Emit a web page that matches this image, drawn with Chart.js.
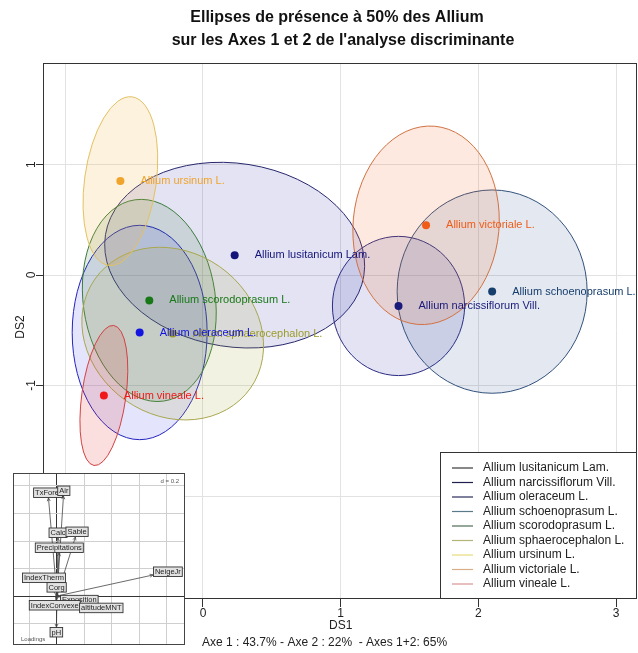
<!DOCTYPE html>
<html>
<head>
<meta charset="utf-8">
<script src="https://cdn.jsdelivr.net/npm/chart.js@4"></script>
<style>
  html, body { margin: 0; padding: 0; background: #fff; }
  #wrap { position: relative; width: 638px; height: 653px; overflow: hidden; }
  #main { position: absolute; left: 0; top: 0; width: 638px; height: 653px; }
  #inset { position: absolute; left: 13px; top: 473px; width: 172px; height: 172px; }
</style>
</head>
<body>
<div id="wrap">
  <canvas id="main" width="638" height="653"></canvas>
  <canvas id="inset" width="172" height="172"></canvas>
</div>
<script>
// ---- Discriminant analysis: class centroids on DS1 / DS2 ----
const species = [
  "Allium lusitanicum Lam.",
  "Allium narcissiflorum Vill.",
  "Allium oleraceum L.",
  "Allium schoenoprasum L.",
  "Allium scorodoprasum L.",
  "Allium sphaerocephalon L.",
  "Allium ursinum L.",
  "Allium victoriale L.",
  "Allium vineale L."
];
const ds1 = [0.23, 1.42, -0.46, 2.10, -0.39, -0.22, -0.60, 1.62, -0.72];
const ds2 = [0.18, -0.28, -0.52, -0.15, -0.23, -0.53, 0.85, 0.45, -1.09];

// 50% presence ellipses: semi-axes (in axis units) and tilt (degrees)
const ellipseDS1 = [0.95, 0.48, 0.49, 0.69, 0.48, 0.69, 0.26, 0.53, 0.16];
const ellipseDS2 = [0.83, 0.63, 0.97, 0.92, 0.92, 0.74, 0.77, 0.90, 0.64];
const ellipseTilt = [9, 0, 0, 0, -8, 35, 8, 5, 8];

const ticksDS1 = [-1, 0, 1, 2, 3];
const ticksDS2 = [-2, -1, 0, 1];

const titleLines = ["Ellipses de présence à 50% des Allium", "sur les Axes 1 et 2 de l'analyse discriminante"];
const inertiaText = "Axe 1 : 43.7% - Axe 2 : 22%  - Axes 1+2: 65%";

// ---- Loadings of the environmental variables (inset) ----
const loadingNames = ["TxForet", "Air", "Calc", "Sable", "Precipitations", "IndexTherm",
                      "Corg", "Exposition", "IndexConvexe", "altitudeMNT", "pH", "NeigeJr"];
const loadingX = [-0.062, 0.047, 0.007, 0.134, 0.015, -0.068, -0.001, 0.022, -0.007, 0.19, -0.004, 0.698];
const loadingY = [0.713, 0.727, 0.422, 0.429, 0.313, 0.095, 0.025, -0.004, -0.029, -0.051, -0.225, 0.153];
const loadingGrid = [-0.2, 0, 0.2, 0.4, 0.6, 0.8];

// ---- Colours ----
const dotColours = ['#14147a', '#1a1a7a', '#1414e0', '#163e6c', '#187818', '#9c9c2c', '#f0a42c', '#f05c18', '#f01818'];
const strokeColours = ['#28286e', '#2c2c84', '#2424c0', '#33527c', '#3c7c3c', '#a8a850', '#e2c262', '#d27242', '#d24242'];
const fillColours = [
  'rgba(40,40,170,0.13)', 'rgba(40,40,160,0.13)', 'rgba(30,30,230,0.12)',
  'rgba(40,80,150,0.13)', 'rgba(30,110,30,0.13)', 'rgba(170,170,60,0.15)',
  'rgba(245,180,60,0.17)', 'rgba(240,110,40,0.15)', 'rgba(230,40,40,0.15)'
];
const legendColours = ['#3a3a3a', '#20204e', '#2a2a5e', '#5a7a8a', '#4c6c52', '#b4b478', '#e8dc78', '#d8ae88', '#d89494'];

const FONT = "'Liberation Sans', Arial, sans-serif";

const pageBackground = {
  id: 'pageBackground',
  beforeDraw(chart) {
    const ctx = chart.ctx;
    ctx.save();
    ctx.fillStyle = '#fff';
    ctx.fillRect(0, 0, chart.width, chart.height);
    ctx.restore();
  }
};

const ellipses = {
  id: 'ellipses',
  beforeDatasetsDraw(chart) {
    const { ctx, chartArea: a, scales: { x, y } } = chart;
    ctx.save();
    ctx.beginPath();
    ctx.rect(a.left, a.top, a.right - a.left, a.bottom - a.top);
    ctx.clip();
    species.forEach((name, i) => {
      const cx = x.getPixelForValue(ds1[i]);
      const cy = y.getPixelForValue(ds2[i]);
      const rx = Math.abs(x.getPixelForValue(ds1[i] + ellipseDS1[i]) - cx);
      const ry = Math.abs(y.getPixelForValue(ds2[i] + ellipseDS2[i]) - cy);
      ctx.beginPath();
      ctx.ellipse(cx, cy, rx, ry, ellipseTilt[i] * Math.PI / 180, 0, Math.PI * 2);
      ctx.fillStyle = fillColours[i];
      ctx.fill();
      ctx.strokeStyle = strokeColours[i];
      ctx.lineWidth = 1;
      ctx.stroke();
    });
    ctx.restore();
  }
};

const decorations = {
  id: 'decorations',
  afterDatasetsDraw(chart) {
    const { ctx, chartArea: a } = chart;
    const meta = chart.getDatasetMeta(0);
    ctx.save();
    // class labels beside each centroid
    ctx.font = `11px ${FONT}`;
    ctx.textAlign = 'left';
    ctx.textBaseline = 'middle';
    for (let i = species.length - 1; i >= 0; i--) {
      const p = meta.data[i];
      ctx.fillStyle = dotColours[i];
      ctx.fillText(species[i], p.x + 20, p.y);
    }
    // plot frame
    ctx.strokeStyle = '#333';
    ctx.lineWidth = 1;
    ctx.strokeRect(a.left + 0.5, a.top + 0.5, a.right - a.left - 1, a.bottom - a.top);
    ctx.restore();
  },
  afterDraw(chart) {
    const { ctx, chartArea: a, scales: { x, y } } = chart;
    ctx.save();
    // title
    ctx.fillStyle = '#111';
    ctx.font = `bold 16px ${FONT}`;
    ctx.textAlign = 'center';
    ctx.textBaseline = 'middle';
    ctx.fillText(titleLines[0], 337, 18);
    ctx.fillText(titleLines[1], 343, 41);

    ctx.font = `12px ${FONT}`;
    ctx.fillStyle = '#222';
    // x tick labels
    ticksDS1.forEach(v => {
      ctx.fillText(String(v), x.getPixelForValue(v), 614);
    });
    // y tick labels (rotated, R style)
    ticksDS2.forEach(v => {
      const py = y.getPixelForValue(v);
      ctx.save();
      ctx.translate(32, py);
      ctx.rotate(-Math.PI / 2);
      ctx.fillText(String(v), 0, 0);
      ctx.restore();
    });
    // axis titles
    ctx.save();
    ctx.translate(21, 327);
    ctx.rotate(-Math.PI / 2);
    ctx.fillText('DS2', 0, 0);
    ctx.restore();
    ctx.fillText('DS1', x.getPixelForValue(1), 626);
    ctx.textAlign = 'left';
    ctx.fillText(inertiaText, 202, 643);

    // legend
    const lx = 440, ly = 452, lw = a.right - 1 - lx, lh = a.bottom - ly;
    ctx.fillStyle = '#fff';
    ctx.fillRect(lx, ly, lw, lh);
    ctx.strokeStyle = '#333';
    ctx.strokeRect(lx + 0.5, ly + 0.5, lw, lh);
    ctx.font = `12px ${FONT}`;
    species.forEach((name, i) => {
      const ry = 468 + i * 14.5;
      ctx.strokeStyle = legendColours[i];
      ctx.lineWidth = 1.2;
      ctx.beginPath();
      ctx.moveTo(452, ry);
      ctx.lineTo(473, ry);
      ctx.stroke();
      ctx.fillStyle = '#222';
      ctx.fillText(name, 483, ry);
    });
    ctx.restore();
  }
};

new Chart(document.getElementById('main'), {
  type: 'scatter',
  data: {
    datasets: [{
      data: species.map((s, i) => ({ x: ds1[i], y: ds2[i] })),
      pointRadius: 4,
      pointHoverRadius: 4,
      pointBorderWidth: 0,
      pointBackgroundColor: dotColours,
      pointBorderColor: dotColours
    }]
  },
  options: {
    responsive: false,
    animation: false,
    devicePixelRatio: 1,
    events: [],
    layout: { autoPadding: false, padding: { top: 63, right: 1, left: 0, bottom: 0 } },
    plugins: { legend: { display: false }, tooltip: { enabled: false }, title: { display: false } },
    scales: {
      x: {
        type: 'linear', min: -1.162, max: 3.152,
        afterBuildTicks(s) { s.ticks = ticksDS1.map(v => ({ value: v })); },
        afterFit(s) { s.height = 55; },
        border: { display: false },
        grid: { color: '#e2e2e2', tickColor: '#333', tickLength: 9, drawTicks: true },
        ticks: { display: false }
      },
      y: {
        type: 'linear', min: -2.923, max: 1.919,
        afterBuildTicks(s) { s.ticks = ticksDS2.map(v => ({ value: v })); },
        afterFit(s) { s.width = 43; },
        border: { display: false },
        grid: { color: '#e2e2e2', tickColor: '#333', tickLength: 7, drawTicks: true },
        ticks: { display: false }
      }
    }
  },
  plugins: [pageBackground, ellipses, decorations]
});

// ---- Loadings inset ----
const arrows = {
  id: 'arrows',
  beforeDraw(chart) {
    const ctx = chart.ctx;
    ctx.save();
    ctx.fillStyle = '#fff';
    ctx.fillRect(0, 0, chart.width, chart.height);
    ctx.restore();
  },
  afterDatasetsDraw(chart) {
    const { ctx, scales: { x, y } } = chart;
    const meta = chart.getDatasetMeta(0);
    const ox = x.getPixelForValue(0), oy = y.getPixelForValue(0);
    ctx.save();
    ctx.strokeStyle = '#444';
    ctx.lineWidth = 0.8;
    meta.data.forEach(p => {
      const dx = p.x - ox, dy = p.y - oy, len = Math.hypot(dx, dy);
      ctx.beginPath();
      ctx.moveTo(ox, oy);
      ctx.lineTo(p.x, p.y);
      ctx.stroke();
      if (len > 3) {
        const ang = Math.atan2(dy, dx), h = 3.5;
        ctx.beginPath();
        ctx.moveTo(p.x, p.y);
        ctx.lineTo(p.x - h * Math.cos(ang - 0.45), p.y - h * Math.sin(ang - 0.45));
        ctx.moveTo(p.x, p.y);
        ctx.lineTo(p.x - h * Math.cos(ang + 0.45), p.y - h * Math.sin(ang + 0.45));
        ctx.stroke();
      }
    });
    // labels in boxes, set just beyond each arrow tip
    ctx.font = `7.5px ${FONT}`;
    ctx.textAlign = 'center';
    ctx.textBaseline = 'middle';
    meta.data.forEach((p, i) => {
      const w = ctx.measureText(loadingNames[i]).width + 3, h = 9.5;
      let dx = p.x - ox, dy = p.y - oy;
      const len = Math.hypot(dx, dy) || 1;
      dx /= len; dy /= len;
      const t = Math.min(Math.abs(dx) > 1e-6 ? (w / 2) / Math.abs(dx) : 1e9,
                         Math.abs(dy) > 1e-6 ? (h / 2) / Math.abs(dy) : 1e9) + 0.5;
      const cx = p.x + dx * t, cy = p.y + dy * t;
      ctx.fillStyle = '#e2e2e2';
      ctx.fillRect(cx - w / 2, cy - h / 2, w, h);
      ctx.strokeStyle = '#333';
      ctx.lineWidth = 0.9;
      ctx.strokeRect(cx - w / 2, cy - h / 2, w, h);
      ctx.fillStyle = '#222';
      ctx.fillText(loadingNames[i], cx, cy + 0.3);
    });
    ctx.font = `6px ${FONT}`;
    ctx.fillStyle = '#555';
    ctx.textAlign = 'right';
    ctx.fillText('d = 0.2', chart.width - 6, 8);
    ctx.textAlign = 'left';
    ctx.fillText('Loadings', 8, chart.height - 6);
    ctx.strokeStyle = '#444';
    ctx.lineWidth = 1;
    ctx.strokeRect(0.5, 0.5, chart.width - 1, chart.height - 1);
    ctx.restore();
  }
};

new Chart(document.getElementById('inset'), {
  type: 'scatter',
  data: {
    datasets: [{
      data: loadingNames.map((n, i) => ({ x: loadingX[i], y: loadingY[i] })),
      pointRadius: 0,
      pointHoverRadius: 0
    }]
  },
  options: {
    responsive: false,
    animation: false,
    devicePixelRatio: 1,
    events: [],
    layout: { autoPadding: false, padding: 0 },
    plugins: { legend: { display: false }, tooltip: { enabled: false } },
    scales: {
      x: {
        type: 'linear', min: -0.32, max: 0.931,
        afterBuildTicks(s) { s.ticks = loadingGrid.map(v => ({ value: v })); },
        afterFit(s) { s.height = 0; },
        border: { display: false },
        ticks: { display: false },
        grid: { drawTicks: false, color: c => (c.tick && c.tick.value === 0) ? '#333' : '#cfcfcf' }
      },
      y: {
        type: 'linear', min: -0.356, max: 0.8945,
        afterBuildTicks(s) { s.ticks = loadingGrid.map(v => ({ value: v })); },
        afterFit(s) { s.width = 0; },
        border: { display: false },
        ticks: { display: false },
        grid: { drawTicks: false, color: c => (c.tick && c.tick.value === 0) ? '#333' : '#cfcfcf' }
      }
    }
  },
  plugins: [arrows]
});
</script>
</body>
</html>
